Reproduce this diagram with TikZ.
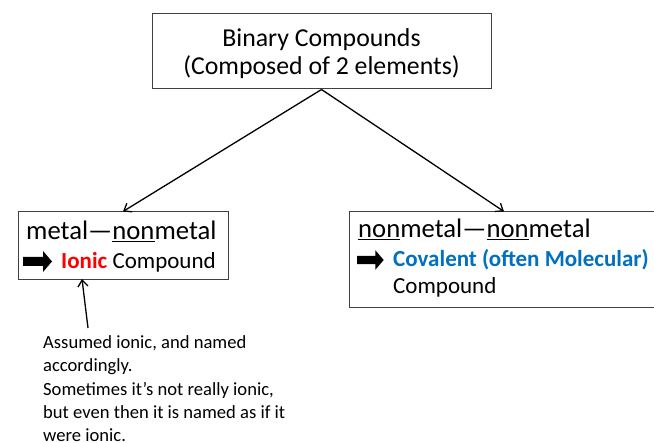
\documentclass[tikz,border=0pt]{standalone}
\usepackage{fontspec}
\setmainfont{Carlito}
\usetikzlibrary{arrows.meta}
\definecolor{ionred}{RGB}{255,0,0}
\definecolor{covblue}{RGB}{0,112,192}
\definecolor{boxgray}{RGB}{64,64,64}
\begin{document}
\begin{tikzpicture}[x=1pt,y=-1pt,
  box/.style={draw=boxgray, line width=1pt, inner sep=0pt},
  lbl/.style={anchor=base west, inner sep=0pt},
  ctr/.style={anchor=base, inner sep=0pt},
  bigfont/.style={font=\fontsize{25.8}{30}\selectfont},
  headfont/.style={font=\fontsize{26.7}{30}\selectfont},
  boxfont/.style={font=\fontsize{23}{27}\selectfont},
  smallfont/.style={font=\fontsize{18.6}{21}\selectfont},
  conn/.style={-{Straight Barb[length=6.5pt,width=10pt]}, line width=1.3pt},
  blockarr/.pic={\fill[black] (0,-4.5) -- (20,-4.5) -- (20,-10.5) -- (29,0) -- (20,10.5) -- (20,4.5) -- (0,4.5) -- cycle;}]
\useasboundingbox (0,0) rectangle (654,443);
\clip (0,0) rectangle (654,443);
\fill[white] (0,0) rectangle (654,443);
% top box
\node[box, minimum width=339pt, minimum height=75pt] (top) at (321.5,51.5) {};
\node[ctr, bigfont] (t1) at (321.5,47) {Binary Compounds};
\node[ctr, bigfont] (t2) at (321.5,75) {(Composed of 2 elements)};
% left box
\node[box, minimum width=210pt, minimum height=68pt] (lbox) at (123,246) {};
\node[lbl, headfont] (l1) at (26,240) {metal—\underline{non}metal};
\pic at (23,261.5) {blockarr};
\node[lbl, boxfont] (l2) at (61,269) {\textbf{\color{ionred}Ionic} Compound};
% right box
\node[box, minimum width=310pt, minimum height=96pt] (rbox) at (504,260) {};
\node[lbl, headfont] (r1) at (358,238) {\underline{non}metal—\underline{non}metal};
\pic[scale=0.92] at (357,260) {blockarr};
\node[lbl, boxfont] (r2) at (393,267) {\textbf{\color{covblue}Covalent (often Molecular)}};
\node[lbl, boxfont] (r3) at (393,294) {Compound};
% connectors
\draw[conn] (top.south) -- (lbox.north);
\draw[conn] (top.south) -- (rbox.north);
% annotation
\node[lbl, smallfont] (a1) at (43,349) {Assumed ionic, and named};
\node[lbl, smallfont] (a2) at (43,372) {accordingly.};
\node[lbl, smallfont] (a3) at (43,396) {Sometimes it’s not really ionic,};
\node[lbl, smallfont] (a4) at (43,419) {but even then it is named as if it};
\node[lbl, smallfont] (a5) at (43,442) {were ionic.};
\coordinate (annstart) at (88,328);
\coordinate (anntip) at (82,279);
\draw[conn] (annstart) -- (anntip);
\end{tikzpicture}
\end{document}
